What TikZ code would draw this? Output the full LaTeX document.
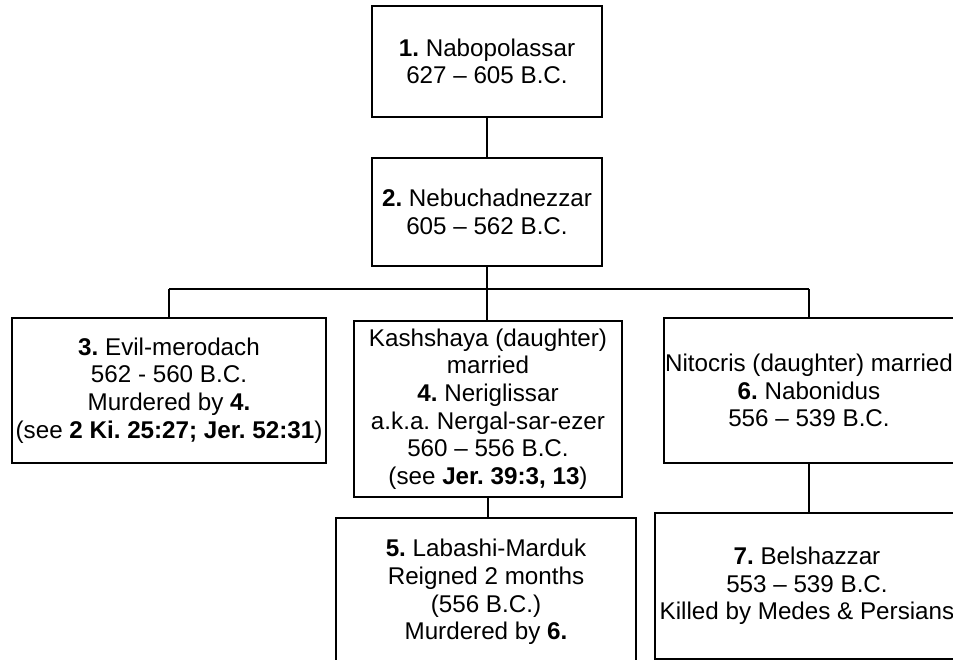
\documentclass[tikz,border=0pt]{standalone}
\usepackage{fontspec}
\setmainfont{Liberation Sans}
\frenchspacing
\begin{document}
\begin{tikzpicture}[x=1pt,y=-1pt,
  box/.style={draw=black, line width=1.6pt, fill=white, align=center, inner sep=0pt,
    font=\fontsize{24.2}{27.6}\selectfont},
  link/.style={line width=1.6pt}]
\useasboundingbox (0,0) rectangle (953,660);
\node[box, minimum width=230, minimum height=111] (b1) at (487,61.5) {\textbf{1.} Nabopolassar\\627 – 605 B.C.};
\node[box, minimum width=230, minimum height=108] (b2) at (487,212) {\textbf{2.} Nebuchadnezzar\\605 – 562 B.C.};
\node[box, minimum width=314, minimum height=145] (b3) at (169,390.5) {\textbf{3.} Evil-merodach\\562 - 560 B.C.\\Murdered by \textbf{4.}\\(see \textbf{2 Ki. 25:27; Jer. 52:31})};
\node[box, minimum width=268, minimum height=176] (b4) at (488,409) {Kashshaya (daughter)\\married\\\textbf{4.} Neriglissar\\a.k.a. Nergal-sar-ezer\\560 – 556 B.C.\\(see \textbf{Jer. 39:3, 13})};
\node[box, minimum width=300, minimum height=148] (b5) at (486,592) {\textbf{5.} Labashi-Marduk\\Reigned 2 months\\(556 B.C.)\\Murdered by \textbf{6.}};
\node[box, minimum width=290, minimum height=145] (b6) at (809,390.5) {Nitocris (daughter) married\\\textbf{6.} Nabonidus\\556 – 539 B.C.};
\node[box, minimum width=304, minimum height=146] (b7) at (807,586) {\textbf{7.} Belshazzar\\553 – 539 B.C.\\Killed by Medes \& Persians};
\coordinate (j) at (486,289);
\draw[link] (b1.south) -- (b2.north);
\draw[link] (b2.south) -- (b2.south |- b4.north);
\draw[link] (b3.north |- j) -- (b6.north |- j);
\draw[link] (b3.north |- j) -- (b3.north);
\draw[link] (b6.north |- j) -- (b6.north);
\draw[link] (b4.south) -- (b4.south |- b5.north);
\draw[link] (b6.south) -- (b6.south |- b7.north);
\end{tikzpicture}
\end{document}
